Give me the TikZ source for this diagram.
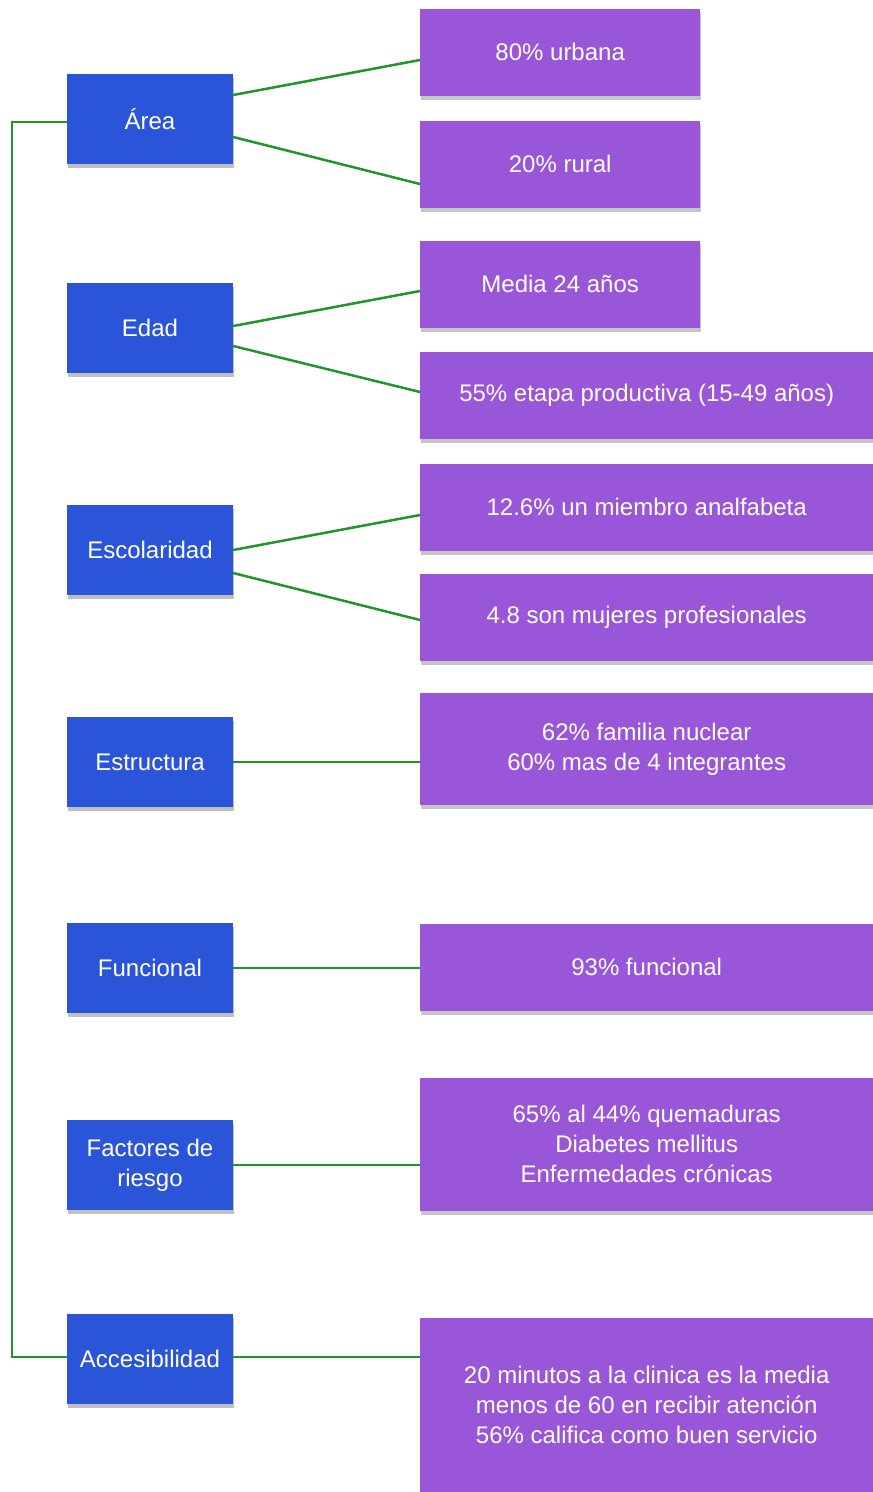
\documentclass[tikz,border=0pt]{standalone}
\usepackage{fontspec}
\setmainfont{Liberation Sans}
\usetikzlibrary{shadows}

\definecolor{catblue}{HTML}{2A55D8}
\definecolor{datapurple}{HTML}{9A56D8}
\definecolor{linkgreen}{HTML}{1F962A}

\begin{document}
\begin{tikzpicture}[x = 1pt, y = -1pt,
	every node/.style = {font = \fontsize{24}{30}\selectfont, text = white, align = center, inner sep = 0pt},
	category/.style = {fill = catblue, minimum width = 166pt, minimum height = 90pt,
		drop shadow = {shadow xshift = 1pt, shadow yshift = -4pt, opacity = 0.5}},
	datum/.style = {fill = datapurple, anchor = west, minimum height = 87pt,
		drop shadow = {shadow xshift = 1pt, shadow yshift = -4pt, opacity = 0.45}},
	short/.style = {minimum width = 280pt},
	wide/.style = {minimum width = 453pt},
	link/.style = {draw = linkgreen, line width = 2.5pt}]

	\useasboundingbox (0, 0) rectangle (873, 1492);

	% Categories
	
	\node [category] (area) at (150, 119) {Área};
	\node [category] (edad) at (150, 328) {Edad};
	\node [category] (escolaridad) at (150, 550) {Escolaridad};
	\node [category] (estructura) at (150, 762) {Estructura};
	\node [category] (funcional) at (150, 968) {Funcional};
	\node [category] (riesgo) at (150, 1165) {Factores de\\riesgo};
	\node [category] (acceso) at (150, 1359) {Accesibilidad};
	
	% Data
	
	\node [datum, short] (urbana) at (420, 52) {80\% urbana};
	\node [datum, short] (rural) at (420, 164) {20\% rural};
	\node [datum, short] (media) at (420, 284) {Media 24 años};
	\node [datum, wide] (productiva) at (420, 395) {55\% etapa productiva (15-49 años)};
	\node [datum, wide] (analfabeta) at (420, 507) {12.6\% un miembro analfabeta};
	\node [datum, wide] (mujeres) at (420, 617) {4.8 son mujeres profesionales};
	\node [datum, wide, minimum height = 112pt] (familia) at (420, 749) {62\% familia nuclear\\60\% mas de 4 integrantes};
	\node [datum, wide] (funcion) at (420, 967) {93\% funcional};
	\node [datum, wide, minimum height = 133pt] (quemaduras) at (420, 1144) {65\% al 44\% quemaduras\\Diabetes mellitus\\Enfermedades crónicas};
	\node [datum, wide, minimum height = 175pt] (clinica) at (420, 1405) {20 minutos a la clinica es la media\\menos de 60 en recibir atención\\56\% califica como buen servicio};
	
	% Links
	
	\draw [link] ([yshift = 24pt] area.east) -- ([yshift = -8pt] urbana.west);
	\draw [link] ([yshift = -18pt] area.east) -- ([yshift = -20pt] rural.west);
	\draw [link] ([yshift = 2pt] edad.east) -- ([yshift = -7pt] media.west);
	\draw [link] ([yshift = -18pt] edad.east) -- ([yshift = 3pt] productiva.west);
	\draw [link] (escolaridad.east) -- ([yshift = -8pt] analfabeta.west);
	\draw [link] ([yshift = -23pt] escolaridad.east) -- ([yshift = -3pt] mujeres.west);
	\draw [link] (estructura.east) -- (estructura.east -| familia.west);
	\draw [link] (funcional.east) -- (funcional.east -| funcion.west);
	\draw [link] (riesgo.east) -- (riesgo.east -| quemaduras.west);
	\draw [link] ([yshift = 2pt] acceso.east) -- ([yshift = 2pt] acceso.east -| clinica.west);
	
	% Left bracket
	
	\draw [link] ([yshift = -3pt] area.west) -- ++(-55, 0) |- ([yshift = 2pt] acceso.west);
	
\end{tikzpicture}
\end{document}
